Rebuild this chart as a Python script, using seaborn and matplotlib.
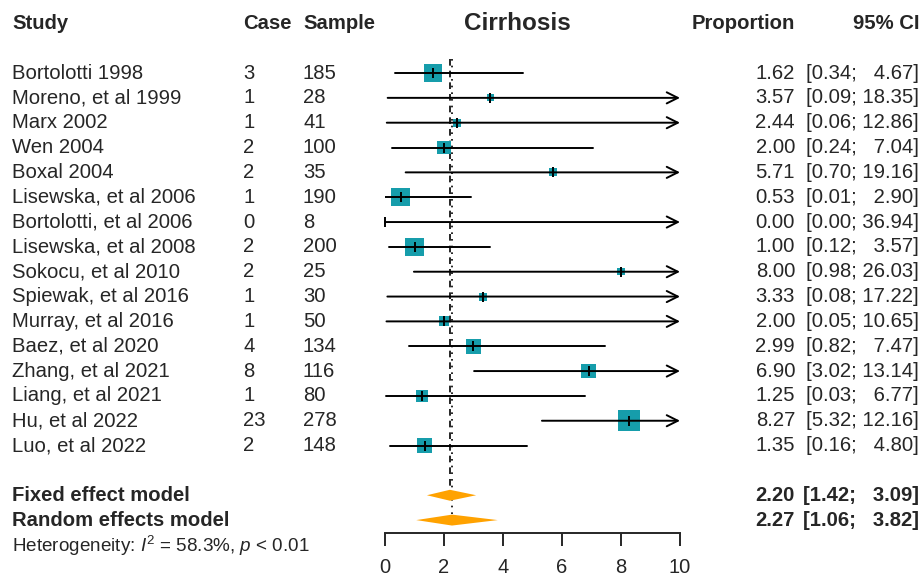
import numpy as np
import pandas as pd
import matplotlib.pyplot as plt
import seaborn as sns
from matplotlib.transforms import blended_transform_factory

sns.set_style("white")
plt.rcParams['font.family'] = ['Liberation Sans', 'DejaVu Sans']
plt.rcParams['mathtext.fontset'] = 'custom'
plt.rcParams['mathtext.rm'] = 'Liberation Sans'
plt.rcParams['mathtext.it'] = 'Liberation Sans:italic'

# data
studies = ["Bortolotti 1998", "Moreno, et al 1999", "Marx 2002", "Wen 2004",
           "Boxal 2004", "Lisewska, et al 2006", "Bortolotti, et al 2006",
           "Lisewska, et al 2008", "Sokocu, et al 2010", "Spiewak, et al 2016",
           "Murray, et al 2016", "Baez, et al 2020", "Zhang, et al 2021",
           "Liang, et al 2021", "Hu, et al 2022", "Luo, et al 2022"]
cases = [3, 1, 1, 2, 2, 1, 0, 2, 2, 1, 1, 4, 8, 1, 23, 2]
samples = [185, 28, 41, 100, 35, 190, 8, 200, 25, 30, 50, 134, 116, 80, 278, 148]
prop = [1.62, 3.57, 2.44, 2.00, 5.71, 0.53, 0.00, 1.00, 8.00, 3.33, 2.00,
        2.99, 6.90, 1.25, 8.27, 1.35]
lower = [0.34, 0.09, 0.06, 0.24, 0.70, 0.01, 0.00, 0.12, 0.98, 0.08, 0.05,
         0.82, 3.02, 0.03, 5.32, 0.16]
upper = [4.67, 18.35, 12.86, 7.04, 19.16, 2.90, 36.94, 3.57, 26.03, 17.22,
         10.65, 7.47, 13.14, 6.77, 12.16, 4.80]
weights = [11.3, 1.8, 2.3, 6.1, 2.3, 11.7, 0.3, 11.7, 1.8, 2.3, 3.6, 8.2,
           7.1, 5.2, 16.0, 8.2]

fixed = (2.20, 1.42, 3.09)
random = (2.27, 1.06, 3.82)
i2_text = r"Heterogeneity: $I^2$ = 58.3%, $p$ < 0.01"

df = pd.DataFrame({"study": studies, "case": cases, "n": samples,
                   "prop": prop, "lo": lower, "hi": upper, "w": weights})
df["row"] = np.arange(len(df))
row_fixed = len(df) + 1
row_random = len(df) + 2

fig = plt.figure(figsize=(9.21, 5.77), dpi=100)
ax = fig.add_axes([385 / 921, 44 / 577, 295 / 921, 1 - 44 / 577])
xmax = 10
ax.set_xlim(0, xmax)
ax.set_ylim(18.52, -2.94)

teal = "#169DAB"
orange = "#FFA200"

# squares sized by weight
k = 14.8
sns.scatterplot(data=df, x="prop", y="row", size="w", marker="s",
                sizes=(k * df.w.min(), k * df.w.max()),
                size_norm=(df.w.min(), df.w.max()),
                color=teal, linewidth=0, legend=False, ax=ax, clip_on=False,
                zorder=2)

# confidence intervals
for _, r in df.iterrows():
    if r.hi > xmax:
        ax.annotate("", xy=(xmax, r.row), xytext=(r.lo, r.row),
                    arrowprops=dict(arrowstyle="->", lw=1.4, color="black",
                                    shrinkA=0, shrinkB=0, mutation_scale=20),
                    zorder=3)
    else:
        ax.plot([r.lo, r.hi], [r.row, r.row], color="black", lw=1.4, zorder=3)
ax.scatter(df.prop, df.row, marker="|", s=45, color="black", lw=1.4,
           zorder=4, clip_on=False)

# pooled estimates
for (est, lo, hi), row in [(fixed, row_fixed), (random, row_random)]:
    h = 0.22
    ax.fill([lo, est, hi, est], [row, row - h, row, row + h], color=orange,
            lw=0, zorder=2)

ax.plot([fixed[0], fixed[0]], [-0.55, row_fixed - 0.2], color="black",
        lw=1.2, ls=(0, (4, 3)), zorder=1)
ax.plot([random[0], random[0]], [-0.55, row_random - 0.2], color="black",
        lw=1.2, ls=(0, (1, 3)), zorder=1)

# axis
for s in ["top", "left", "right"]:
    ax.spines[s].set_visible(False)
ax.spines["bottom"].set_linewidth(1.4)
ax.set_xticks([0, 2, 4, 6, 8, 10])
ax.tick_params(axis="x", direction="out", length=9, width=1.4,
               labelsize=14.5, pad=9, bottom=True)
ax.set_yticks([])
ax.set_xlabel("")
ax.set_ylabel("")

# text columns
tr = blended_transform_factory(fig.transFigure, ax.transData)
fs = 14.6
hdr_y = -2
ax.text(12 / 921, hdr_y, "Study", transform=tr, fontsize=fs,
        fontweight="bold", va="center")
ax.text(243 / 921, hdr_y, "Case", transform=tr, fontsize=fs,
        fontweight="bold", va="center")
ax.text(303 / 921, hdr_y, "Sample", transform=tr, fontsize=fs,
        fontweight="bold", va="center")
ax.text(517 / 921, hdr_y, "Cirrhosis", transform=tr, fontsize=17.5,
        fontweight="bold", va="center", ha="center")
ax.text(795 / 921, hdr_y, "Proportion", transform=tr, fontsize=fs,
        fontweight="bold", va="center", ha="right")
ax.text(919 / 921, hdr_y, "95% CI", transform=tr, fontsize=fs,
        fontweight="bold", va="center", ha="right")


def fmt_ci(lo, hi):
    a = f"{lo:.2f}"
    b = f"{hi:5.2f}".replace(" ", "  ")
    return f"[{a}; {b}]"


for _, r in df.iterrows():
    ax.text(12 / 921, r.row, r.study, transform=tr, fontsize=fs, va="center")
    ax.text(243 / 921, r.row, str(r.case), transform=tr, fontsize=fs,
            va="center")
    ax.text(303 / 921, r.row, str(r.n), transform=tr, fontsize=fs,
            va="center")
    ax.text(795 / 921, r.row, f"{r.prop:.2f}", transform=tr, fontsize=fs,
            va="center", ha="right")
    ax.text(919 / 921, r.row, fmt_ci(r.lo, r.hi), transform=tr, fontsize=fs,
            va="center", ha="right")

for label, (est, lo, hi), row in [("Fixed effect model", fixed, row_fixed),
                                  ("Random effects model", random, row_random)]:
    ax.text(12 / 921, row, label, transform=tr, fontsize=fs,
            fontweight="bold", va="center")
    ax.text(795 / 921, row, f"{est:.2f}", transform=tr, fontsize=fs,
            fontweight="bold", va="center", ha="right")
    ax.text(919 / 921, row, fmt_ci(lo, hi), transform=tr, fontsize=fs,
            fontweight="bold", va="center", ha="right")

ax.text(12 / 921, row_random + 1.05, i2_text, transform=tr, fontsize=13.6,
        va="center", clip_on=False)

fig.savefig("out.png", dpi=100)
